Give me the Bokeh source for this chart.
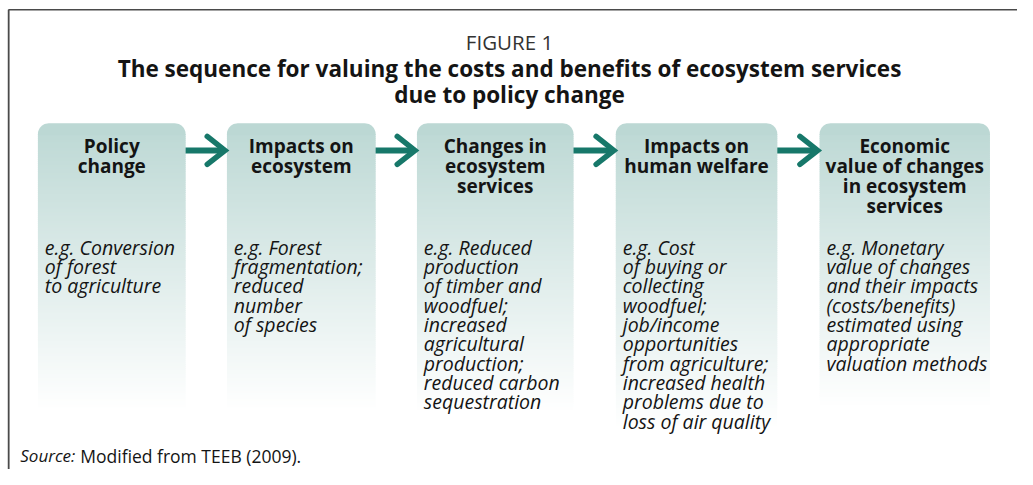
import math
from bokeh.plotting import figure
from bokeh.models import Range1d
from bokeh.embed import file_html
from bokeh.resources import INLINE
from bokeh.core.properties import value

# ---------------- data ----------------
figure_label = "FIGURE 1"
title_lines = ["The sequence for valuing the costs and benefits of ecosystem services",
               "due to policy change"]
headers = [
    ["Policy", "change"],
    ["Impacts on", "ecosystem"],
    ["Changes in", "ecosystem", "services"],
    ["Impacts on", "human welfare"],
    ["Economic", "value of changes", "in ecosystem", "services"],
]
bodies = [
    ["e.g. Conversion", "of forest", "to agriculture"],
    ["e.g. Forest", "fragmentation;", "reduced", "number", "of species"],
    ["e.g. Reduced", "production", "of timber and", "woodfuel;", "increased",
     "agricultural", "production;", "reduced carbon", "sequestration"],
    ["e.g. Cost", "of buying or", "collecting", "woodfuel;", "job/income",
     "opportunities", "from agriculture;", "increased health", "problems due to",
     "loss of air quality"],
    ["e.g. Monetary", "value of changes", "and their impacts", "(costs/benefits)",
     "estimated using", "appropriate", "valuation methods"],
]
source_label = "Source:"
source_text = "Modified from TEEB (2009)."

# ---------------- layout (reference pixel coordinates) ----------------
W, H = 1017, 469
REF_W, REF_H = 1033, 485
box_left = [38, 230, 423, 625, 832]
box_right = [188, 381, 582, 789, 1005]
box_top = 127
box_bottom = [423, 423, 426, 442, 420]
radius = 11
top_rgb = (188, 216, 212)
arrow_color = "#17786a"
FONT = value("Open Sans")
INK = "#141414"

p = figure(width=W, height=H, output_backend="svg", toolbar_location=None,
           x_range=Range1d(0, REF_W), y_range=Range1d(REF_H, 0),
           min_border=0, outline_line_color=None)
p.axis.visible = False
p.grid.visible = False
p.background_fill_color = "white"
p.border_fill_color = "white"

# frame (top and left rules)
p.line([8, REF_W], [9.5, 9.5], line_color="#4a4a4a", line_width=1.6)
p.line([8.3, 8.3], [9.5, REF_H], line_color="#4a4a4a", line_width=1.8)

# boxes with vertical gradient
ql, qr, qt, qb, qc = [], [], [], [], []
for i in range(len(headers)):
    l, r, b = box_left[i], box_right[i], box_bottom[i]
    y = box_top + radius
    while y < b:
        t = (y - box_top) / (b - box_top)
        col = tuple(int(round(c + (255 - c) * t)) for c in top_rgb)
        ql.append(l); qr.append(r); qt.append(y); qb.append(min(y + 3, b))
        qc.append("#%02x%02x%02x" % col)
        y += 2
p.quad(left=ql, right=qr, top=qt, bottom=qb, fill_color=qc, line_color=None)

# rounded top caps
xs, ys = [], []
for i in range(len(headers)):
    l, r = box_left[i], box_right[i]
    px, py = [], []
    n = 12
    for k in range(n + 1):
        a = math.pi + (math.pi / 2) * k / n
        px.append(l + radius + radius * math.cos(a)); py.append(box_top + radius + radius * math.sin(a))
    for k in range(n + 1):
        a = 1.5 * math.pi + (math.pi / 2) * k / n
        px.append(r - radius + radius * math.cos(a)); py.append(box_top + radius + radius * math.sin(a))
    px += [r, l]; py += [box_top + radius + 1, box_top + radius + 1]
    xs.append(px); ys.append(py)
p.patches(xs, ys, fill_color="#%02x%02x%02x" % top_rgb, line_color=None)

# arrows
arrow_y = 155
for i in range(len(headers) - 1):
    x0 = box_right[i]
    tip = box_left[i + 1] - 2
    p.line([x0, tip - 3], [arrow_y, arrow_y], line_color=arrow_color, line_width=6, line_cap="butt")
    p.line([tip - 18, tip, tip - 18], [arrow_y - 14.5, arrow_y, arrow_y + 14.5],
           line_color=arrow_color, line_width=5.5, line_cap="round", line_join="miter")

# titles
cx = 517
p.text([cx], [43], text=[figure_label], text_font=FONT, text_font_size="20.5px",
       text_color="#333333", text_align="center", text_baseline="alphabetic")
p.text([cx] * 2, [70, 97], text=title_lines, text_font=FONT, text_font_size="22.5px",
       text_font_style="bold", text_color=INK, text_align="center", text_baseline="alphabetic")

# headers
hx, hy, ht = [], [], []
for i, lines in enumerate(headers):
    c = (box_left[i] + box_right[i]) / 2
    for j, s in enumerate(lines):
        hx.append(c); hy.append(150 + 21 * j); ht.append(s)
p.text(hx, hy, text=ht, text_font=FONT, text_font_size="19px", text_font_style="bold",
       text_color=INK, text_align="center", text_baseline="alphabetic")

# bodies
bx, by, bt = [], [], []
for i, lines in enumerate(bodies):
    for j, s in enumerate(lines):
        bx.append(box_left[i] + 7); by.append(255 + 20 * j); bt.append(s)
p.text(bx, by, text=bt, text_font=FONT, text_font_size="19.5px", text_font_style="italic",
       text_color=INK, text_align="left", text_baseline="alphabetic")

# source
p.text([76], [471], text=[source_label], text_font=FONT, text_font_size="17px",
       text_font_style="italic", text_color=INK, text_align="right", text_baseline="alphabetic")
p.text([81], [471], text=[source_text], text_font=FONT, text_font_size="17.5px",
       text_color=INK, text_baseline="alphabetic")

open("out.html", "w").write(file_html(p, INLINE))
